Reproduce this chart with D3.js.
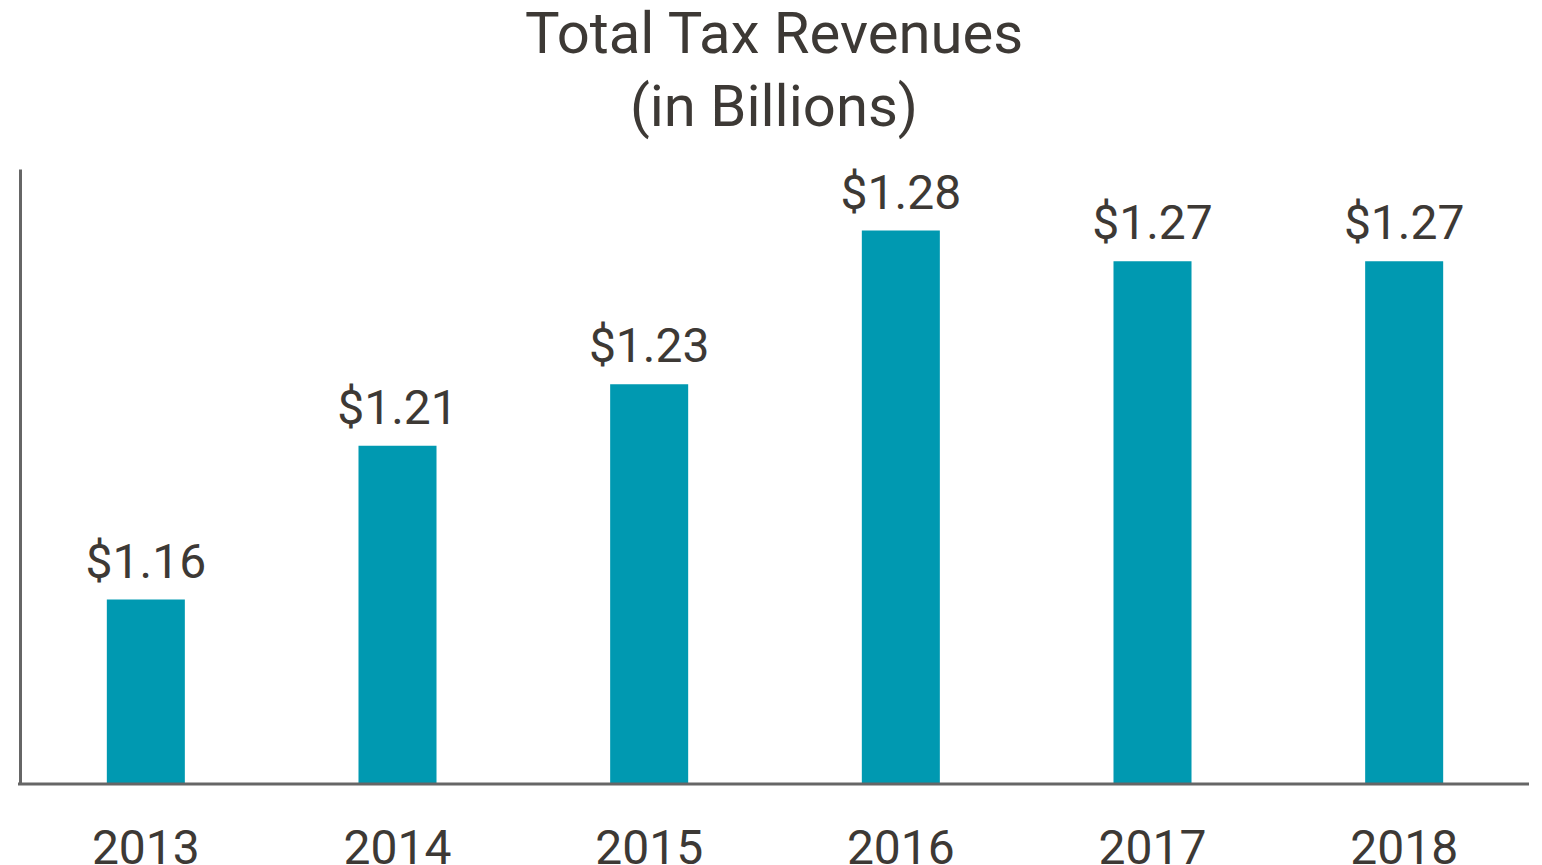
<!DOCTYPE html>
<html>
<head>
<meta charset="utf-8">
<script src="https://cdn.jsdelivr.net/npm/d3@7"></script>
<style>
    body { margin: 0; background: #fff; }
    .chart text { font-family: Roboto, "Noto Sans", sans-serif; fill: #3d3935; }
</style>
</head>
<body>
<div class="chart"></div>
<script>
let years = ["2013", "2014", "2015", "2016", "2017", "2018"];
let revenues = [1.16, 1.21, 1.23, 1.28, 1.27, 1.27];
let valueLabels = ["$1.16", "$1.21", "$1.23", "$1.28", "$1.27", "$1.27"];
let titleLines = ["Total Tax Revenues", "(in Billions)"];

let width = 1542,
    height = 865;

let svg = d3.select(".chart")
    .append("svg")
    .attr("width", width)
    .attr("height", height);

let data = years.map((y, i) => ({ year: y, value: revenues[i], label: valueLabels[i] }));

let x = d3.scaleBand()
    .domain(years)
    .range([20, 1530])
    .paddingInner(0.69)
    .paddingOuter(0.345);

let y = d3.scaleLinear()
    .domain([1.10, 1.30])
    .range([784, 169]);

// title
svg.append("g")
    .selectAll("text")
    .data(titleLines)
    .enter()
    .append("text")
    .attr("x", 774)
    .attr("y", (d, i) => 53 + i * 73)
    .attr("text-anchor", "middle")
    .style("font-size", "58px")
    .text(d => d);

// bars
svg.append("g")
    .selectAll("rect")
    .data(data)
    .enter()
    .append("rect")
    .attr("x", d => x(d.year))
    .attr("y", d => y(d.value))
    .attr("width", x.bandwidth())
    .attr("height", d => y(1.10) - y(d.value))
    .style("fill", "#0099b1");

// value labels
svg.append("g")
    .selectAll("text")
    .data(data)
    .enter()
    .append("text")
    .attr("x", d => x(d.year) + x.bandwidth() / 2)
    .attr("y", d => y(d.value) - 22)
    .attr("text-anchor", "middle")
    .style("font-size", "48px")
    .text(d => d.label);

// axes
let xAxis = svg.append("g")
    .attr("transform", "translate(0," + y(1.10) + ")")
    .call(d3.axisBottom(x).tickSize(0).tickPadding(46));
xAxis.select(".domain")
    .attr("d", "M18,0H1529")
    .attr("stroke", "#666")
    .attr("stroke-width", 3);
xAxis.selectAll(".tick text")
    .attr("dy", "0.71em")
    .style("font-size", "48px")
    .style("fill", "#3d3935");

let yAxis = svg.append("g")
    .attr("transform", "translate(20,0)")
    .call(d3.axisLeft(y).ticks(0).tickSize(0));
yAxis.select(".domain")
    .attr("stroke", "#666")
    .attr("stroke-width", 3);
</script>
</body>
</html>
